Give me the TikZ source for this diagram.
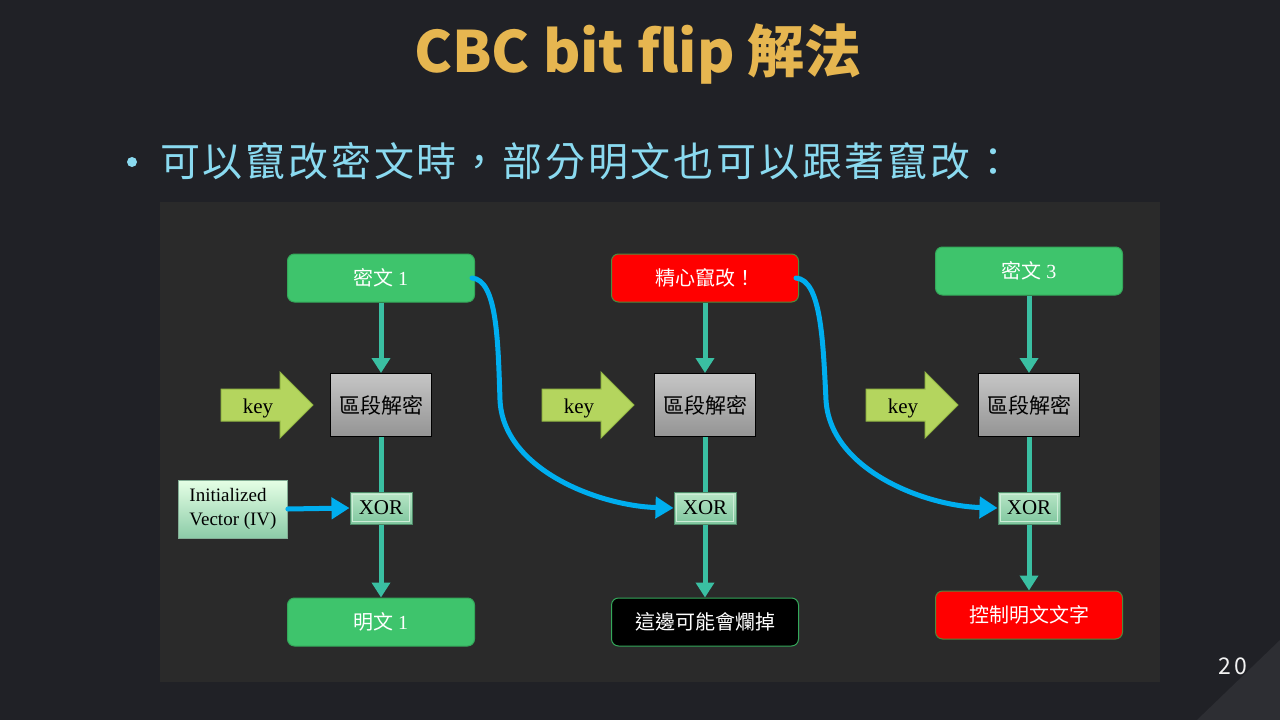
\documentclass[tikz,border=0pt]{standalone}
\usepackage{fontspec}
\usetikzlibrary{arrows.meta}
\newfontfamily\cjk{Noto Sans CJK TC}
\newfontfamily\cjkspaced{Noto Sans CJK TC}[LetterSpace=7]
\newfontfamily\serif{Liberation Serif}

\definecolor{slidebg}{HTML}{202126}
\definecolor{panelbg}{HTML}{2A2A2A}
\definecolor{cornerbg}{HTML}{2D2E33}
\definecolor{titlegold}{HTML}{E6B650}
\definecolor{bulletblue}{HTML}{8ADAF0}
\definecolor{boxgreen}{HTML}{3EC46C}
\definecolor{boxgreenline}{HTML}{34A85A}
\definecolor{alertred}{HTML}{FF0000}
\definecolor{alertline}{HTML}{4E8A3C}
\definecolor{flowteal}{HTML}{3ABFA2}
\definecolor{chainblue}{HTML}{00AEEF}
\definecolor{keygreen}{HTML}{B4D55E}
\definecolor{keyline}{HTML}{94B844}
\definecolor{xortop}{HTML}{B8E6C6}
\definecolor{xorbottom}{HTML}{7FC69E}
\definecolor{xorline}{HTML}{4E8A68}

\tikzset{
  textbox/.style={rounded corners=7pt, minimum width=187pt, minimum height=48pt,
    line width=1pt, text=white, font=\cjk\fontsize{20}{24}\selectfont},
  cipherbox/.style={textbox, fill=boxgreen, draw=boxgreenline},
  alertbox/.style={textbox, fill=alertred, draw=alertline},
  darkbox/.style={textbox, fill=black, draw=boxgreenline},
  decryptbox/.style={draw=black, line width=1pt, top color=gray!45, bottom color=gray!95!black!80,
    minimum width=101pt, minimum height=63pt, text=black, font=\cjk\fontsize{21}{24}\selectfont},
  xorbox/.style={draw=xorline, line width=1pt, top color=xortop, bottom color=xorbottom,
    minimum width=62pt, minimum height=32pt, inner sep=0pt, text=black,
    font=\serif\fontsize{21}{24}\selectfont},
  ivbox/.style={draw=xorline!70, line width=0.8pt, top color=green!10!white, bottom color=xorbottom!90!white,
    minimum width=109pt, minimum height=58pt, inner sep=3pt, align=left, text=black,
    font=\serif\fontsize{19}{24}\selectfont},
  flow/.style={draw=flowteal, line width=5pt, -{Triangle[width=18pt,length=15pt]}},
  flowline/.style={draw=flowteal, line width=5pt},
  chain/.style={draw=chainblue, line width=5pt, line cap=round, -{Triangle[width=21pt,length=18pt]}},
  keyarrow/.pic={
    \draw[fill=keygreen, draw=keyline, line width=1pt]
      (0,-16) -- (59,-16) -- (59,-33) -- (92,0) -- (59,33) -- (59,16) -- (0,16) -- cycle;
    \node[text=black, font=\serif\fontsize{21}{24}\selectfont] (-label) at (37,3) {key};
  }
}

\begin{document}
\begin{tikzpicture}[x=1pt,y=-1pt]
  % slide background and frame
  \fill[slidebg] (0,0) rectangle (1280,720);
  \useasboundingbox (0,0) rectangle (1280,720);
  \fill[cornerbg] (1197,720) -- (1280,640) -- (1280,720) -- cycle;

  % heading and bullet line
  \node[text=titlegold, font=\cjk\bfseries\fontsize{57}{64}\selectfont] (title) at (638,54) {CBC bit flip 解法};
  \fill[bulletblue] (132,162) circle (5);
  \node[anchor=west, inner sep=0pt, text=bulletblue, font=\cjkspaced\fontsize{40}{48}\selectfont] (lead) at (160,161)
    {可以竄改密文時，部分明文也可以跟著竄改：};
  \node[text=white!90!gray, font=\cjk\fontsize{23}{26}\selectfont] (pageno) at (1233,666) {2\,0};

  % diagram panel
  \fill[panelbg] (160,202) rectangle (1160,682);

  % column 1
  \node[cipherbox] (c1) at (381,278) {密文 {\serif 1}};
  \node[decryptbox] (d1) at (381,405) {區段解密};
  \node[xorbox] (x1) at (381,508) {XOR};
  \node[cipherbox] (p1) at (381,622) {明文 {\serif 1}};
  \node[ivbox] (iv) at (233,509) {Initialized\\Vector (IV)};
  \pic (k1) at (221,405) {keyarrow};

  % column 2
  \node[alertbox] (c2) at (705,278) {精心竄改！};
  \node[decryptbox] (d2) at (705,405) {區段解密};
  \node[xorbox] (x2) at (705,508) {XOR};
  \node[darkbox] (p2) at (705,622) {這邊可能會爛掉};
  \pic (k2) at (542,405) {keyarrow};

  % column 3
  \node[cipherbox] (c3) at (1029,271) {密文 {\serif 3}};
  \node[decryptbox] (d3) at (1029,405) {區段解密};
  \node[xorbox] (x3) at (1029,508) {XOR};
  \node[alertbox] (p3) at (1029,615) {控制明文文字};
  \pic (k3) at (866,405) {keyarrow};

  % block decryption flow
  \foreach \i in {1,2,3} {
    \draw[flow] (c\i.south) -- (d\i.north);
    \draw[flowline] (d\i.south) -- (x\i.north);
    \draw[flow] (x\i.south) -- (p\i.north);
    \draw[xortop!70!white, line width=0.6pt]
      ([shift={(3,3)}]x\i.north west) rectangle ([shift={(-3,-3)}]x\i.south east);
  }

  % chaining of previous ciphertext blocks
  \draw[chain] (iv.east) -- (x1.west);
  \draw[chain] ([xshift=-3pt]c1.east) .. controls (497,280) and (498,340) .. (500,400)
    .. controls (503,470) and (600,506) .. (x2.west);
  \draw[chain] ([xshift=-3pt]c2.east) .. controls (821,280) and (823,340) .. (826,400)
    .. controls (830,470) and (925,506) .. (x3.west);
\end{tikzpicture}
\end{document}
